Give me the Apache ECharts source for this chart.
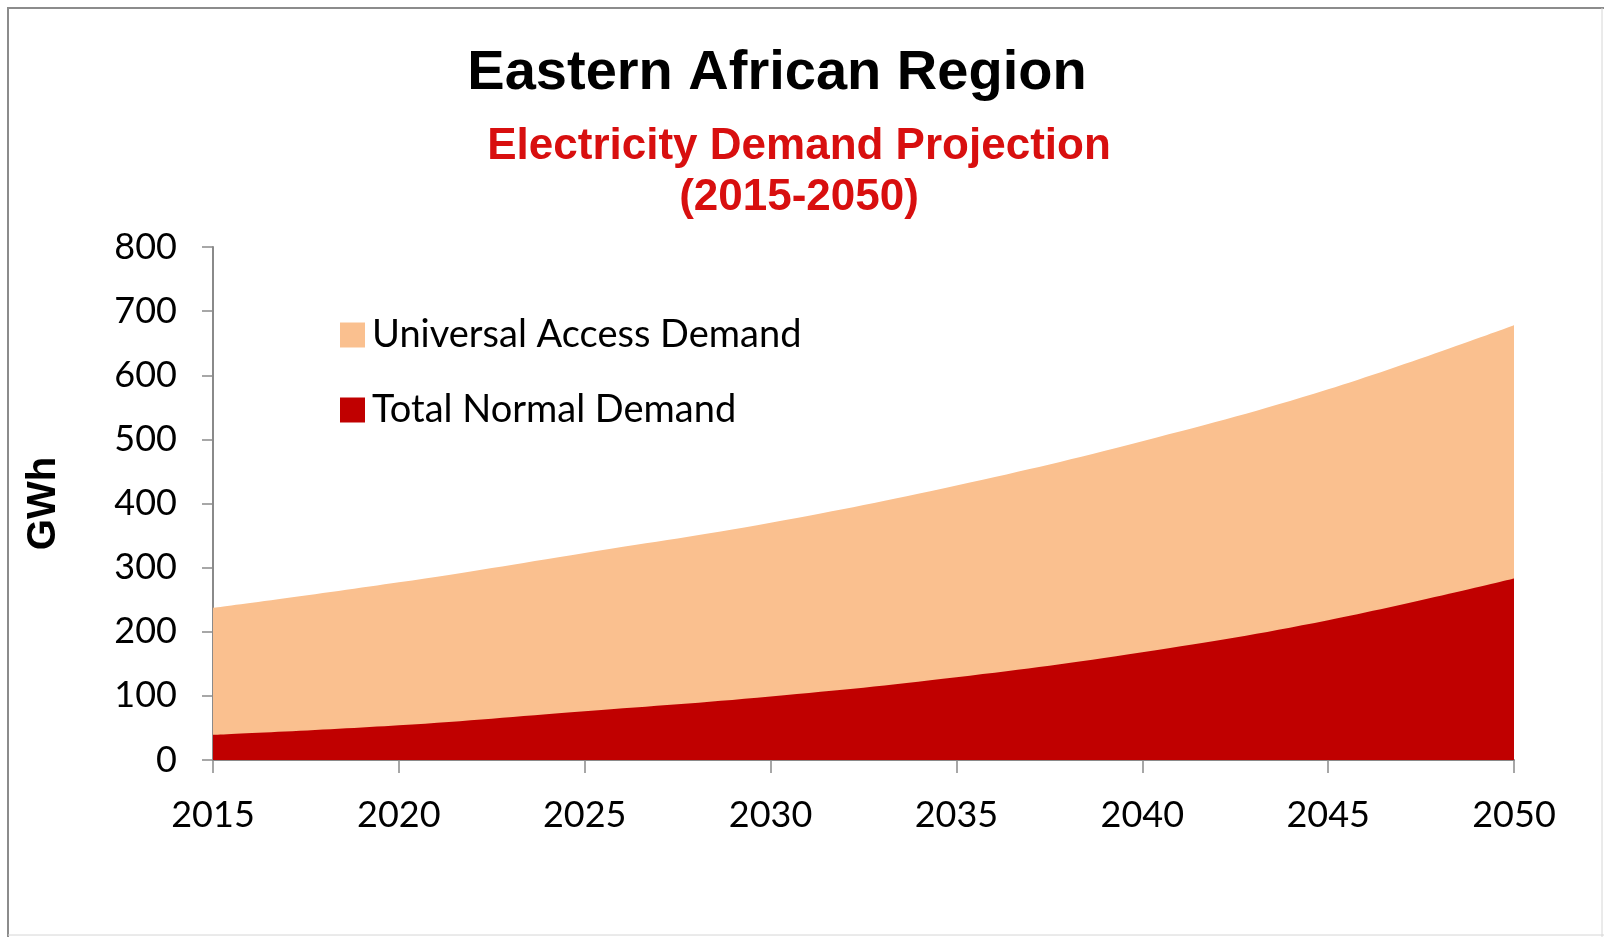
<!DOCTYPE html>
<html>
<head>
<meta charset="utf-8">
<title>Eastern African Region – Electricity Demand Projection</title>
<script src="https://cdn.jsdelivr.net/npm/echarts@6/dist/echarts.min.js"></script>
<style>
  html, body { margin: 0; padding: 0; background: #ffffff; }
  #chart { width: 1604px; height: 937px; }
</style>
</head>
<body>
<div id="chart"></div>
<script>
// Projection years (x axis) and demand in GWh
const years = [2015, 2020, 2025, 2030, 2035, 2040, 2045, 2050];
const universalAccessDemand = [237, 277, 323, 370, 428, 497, 578, 678];
const totalNormalDemand = [39, 54, 76, 99, 129, 168, 218, 283];

const seriesNames = ['Universal Access Demand', 'Total Normal Demand'];
const seriesColors = ['#FAC08F', '#C00000'];

const toPairs = (vals) => years.map((y, i) => [y, vals[i]]);

const chart = echarts.init(document.getElementById('chart'), null, { renderer: 'canvas' });

const axisGray = '#8a8a8a';
const labelFont = 'Lato, "Open Sans", sans-serif';

chart.setOption({
  animation: false,
  backgroundColor: '#ffffff',
  graphic: [
    // frame around the chart area
    { type: 'line', shape: { x1: 8, y1: 7, x2: 8, y2: 937 }, style: { stroke: '#8c8c8c', lineWidth: 2 } },
    { type: 'line', shape: { x1: 7, y1: 8, x2: 1604, y2: 8 }, style: { stroke: '#8c8c8c', lineWidth: 2 } },
    { type: 'line', shape: { x1: 1602, y1: 8, x2: 1602, y2: 937 }, style: { stroke: '#d6d6d6', lineWidth: 1 } },
    { type: 'line', shape: { x1: 8, y1: 935, x2: 1604, y2: 935 }, style: { stroke: '#d6d6d6', lineWidth: 1 } },
    {
      type: 'text', z: 10,
      style: {
        text: 'Eastern African Region',
        x: 777, y: 74, align: 'center', verticalAlign: 'middle',
        fill: '#000000',
        font: 'bold 56px "Liberation Sans", Arial, sans-serif'
      }
    },
    {
      type: 'text', z: 10,
      style: {
        text: 'Electricity Demand Projection\n(2015-2050)',
        x: 799, y: 121, align: 'center', verticalAlign: 'top',
        fill: '#D80F0F', lineHeight: 51,
        font: 'bold 44px "Liberation Sans", Arial, sans-serif'
      }
    }
  ],
  legend: {
    orient: 'vertical',
    left: 335,
    top: 311,
    icon: 'rect',
    itemWidth: 25,
    itemHeight: 25,
    itemGap: 37,
    data: seriesNames,
    textStyle: {
      fontFamily: labelFont,
      fontSize: 38,
      color: '#000000',
      padding: [0, 0, 0, 2]
    }
  },
  grid: {
    left: 213,
    right: 90,
    top: 247,
    bottom: 177,
    containLabel: false
  },
  xAxis: {
    type: 'value',
    min: 2015,
    max: 2050,
    interval: 5,
    splitLine: { show: false },
    axisLine: { show: true, lineStyle: { color: axisGray, width: 2 } },
    axisTick: { show: true, inside: false, length: 13, lineStyle: { color: axisGray, width: 1.5 } },
    axisLabel: {
      margin: 37,
      fontFamily: labelFont,
      fontSize: 36,
      color: '#000000',
      formatter: (v) => String(v)
    }
  },
  yAxis: {
    type: 'value',
    min: 0,
    max: 800,
    interval: 100,
    name: 'GWh',
    nameLocation: 'middle',
    nameRotate: 90,
    nameGap: 149,
    nameTextStyle: {
      fontFamily: '"Liberation Sans", Arial, sans-serif',
      fontWeight: 'bold',
      fontSize: 40,
      color: '#000000'
    },
    splitLine: { show: false },
    axisLine: { show: true, lineStyle: { color: axisGray, width: 2 } },
    axisTick: { show: true, inside: false, length: 11, lineStyle: { color: axisGray, width: 1.5 } },
    axisLabel: {
      margin: 36,
      fontFamily: labelFont,
      fontSize: 36,
      color: '#000000'
    }
  },
  series: [
    {
      name: seriesNames[0],
      type: 'line',
      data: toPairs(universalAccessDemand),
      smooth: 0.4,
      symbol: 'none',
      lineStyle: { width: 0 },
      itemStyle: { color: seriesColors[0] },
      areaStyle: { color: seriesColors[0], opacity: 1 },
      z: 2
    },
    {
      name: seriesNames[1],
      type: 'line',
      data: toPairs(totalNormalDemand),
      smooth: 0.4,
      symbol: 'none',
      lineStyle: { width: 0 },
      itemStyle: { color: seriesColors[1] },
      areaStyle: { color: seriesColors[1], opacity: 1 },
      z: 3
    }
  ]
});
</script>
</body>
</html>
